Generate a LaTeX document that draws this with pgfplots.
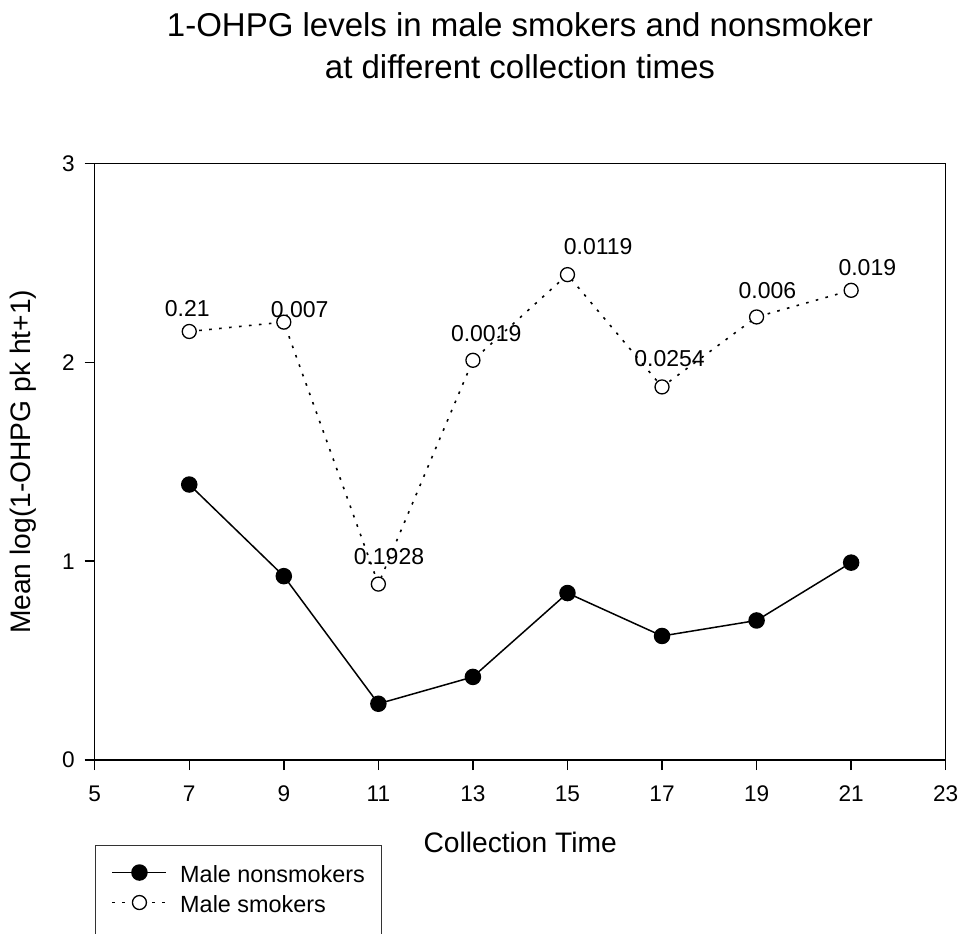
\documentclass[border=0pt]{standalone}
\usepackage{fontspec}
\setmainfont{Liberation Sans}
\usepackage{pgfplots}
\pgfplotsset{compat=1.18}

% Mean log(1-OHPG pk ht+1) by collection time
\pgfplotstableread{
time  mean
7     1.386
9     0.925
11    0.283
13    0.418
15    0.840
17    0.624
19    0.702
21    0.993
}\nonsmokers

\pgfplotstableread{
time  mean
7     2.156
9     2.203
11    0.885
13    2.011
15    2.442
17    1.877
19    2.229
21    2.363
}\smokers

\begin{document}
\begin{tikzpicture}
\useasboundingbox (-47.35pt,-86.5pt) rectangle (434.15pt,380pt);

\node[anchor=base, font=\fontsize{16.5}{20}\selectfont] at (212.65pt,361.5pt)
  {1-OHPG levels in male smokers and nonsmoker};
\node[anchor=base, font=\fontsize{16.5}{20}\selectfont] at (212.65pt,340.5pt)
  {at different collection times};

\begin{axis}[
  at={(0,0)}, anchor=south west,
  scale only axis, width=425.5pt, height=298.15pt,
  xmin=5, xmax=23, ymin=0, ymax=3,
  xtick={5,7,...,23}, ytick={0,1,2,3},
  tick align=outside, xtick pos=bottom, ytick pos=left,
  major tick length=5pt,
  axis line style={line width=0.75pt},
  major tick style={black, line width=0.75pt},
  tick label style={font=\fontsize{11.3}{13}\selectfont},
  /pgf/number format/assume math mode=true,
  xticklabel style={anchor=base, inner sep=0pt, yshift=-15.85pt},
  yticklabel style={anchor=east, inner sep=0pt, xshift=-4.85pt},
  xlabel={Collection Time},
  ylabel={Mean log(1-OHPG pk ht+1)},
  xlabel style={at={([yshift=-46.35pt]axis description cs:0.5,0)}, anchor=base,
    font=\fontsize{14.1}{16}\selectfont},
  ylabel style={at={([xshift=-31.85pt]axis description cs:0,0.5)}, anchor=base,
    font=\fontsize{14.1}{16}\selectfont},
  legend style={at={(0,-0.1425)}, anchor=north west, draw=black!80,
    line width=0.65pt, inner xsep=8.15pt, inner ysep=9.35pt,
    row sep=0pt, column sep=6.5pt,
    font=\fontsize{11.7}{13}\selectfont,
    nodes={inner sep=0pt, text height=9pt, text depth=6pt}},
  legend cell align=left,
  legend image code/.code={%
    \draw[#1, mark repeat=2, mark phase=2]
      plot coordinates {(0pt,3.4pt) (13.5pt,3.4pt) (27pt,3.4pt)};},
]
\addplot[black, line width=0.75pt, mark=*, mark size=3.75pt,
  mark options={solid, fill=black}]
  table[x=time, y=mean] {\nonsmokers};
\addlegendentry{Male nonsmokers}

\addplot[black, line width=0.8pt, dash pattern=on 1.3pt off 3.7pt,
  mark=*, mark size=3.5pt,
  mark options={solid, draw=black, fill=white, line width=0.65pt}]
  table[x=time, y=mean] {\smokers};
\addlegendentry{Male smokers}

% p-values printed above the smokers' points
\begin{scope}[every node/.style={anchor=base west, inner sep=0pt,
    font=\fontsize{11.5}{13}\selectfont}]
\node[xshift=-12.35pt, yshift=7.3pt]  at (axis cs:7,2.156)  {0.21};
\node[xshift=-6.65pt,  yshift=2.25pt] at (axis cs:9,2.203)  {0.007};
\node[xshift=-12.5pt,  yshift=9.85pt] at (axis cs:11,0.885) {0.1928};
\node[xshift=-11.15pt, yshift=9.3pt]  at (axis cs:13,2.011) {0.0019};
\node[xshift=-2pt,     yshift=10pt]   at (axis cs:15,2.442) {0.0119};
\node[xshift=-14pt,    yshift=10.15pt] at (axis cs:17,1.877) {0.0254};
\node[xshift=-9.2pt,   yshift=9pt]    at (axis cs:19,2.229) {0.006};
\node[xshift=-6.5pt,   yshift=7.5pt]  at (axis cs:21,2.363) {0.019};
\end{scope}
\end{axis}
\end{tikzpicture}
\end{document}
